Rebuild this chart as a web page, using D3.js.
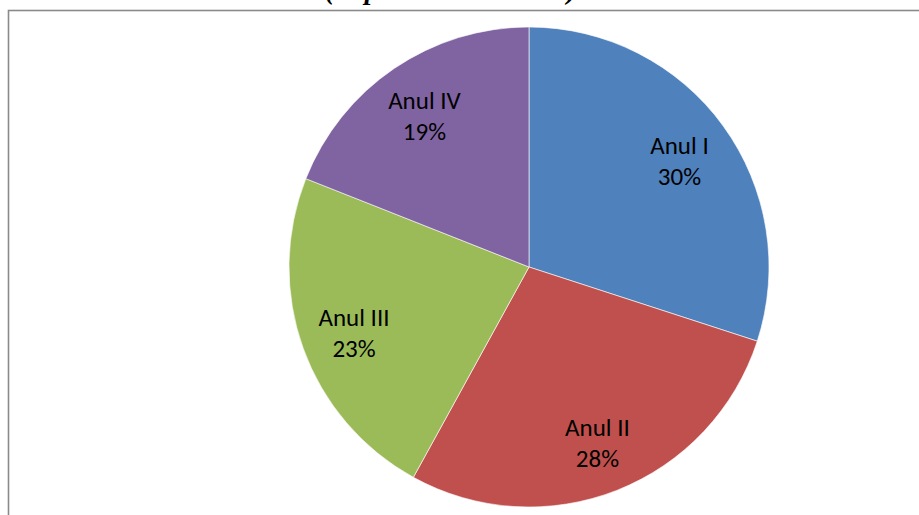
<!DOCTYPE html>
<html>
<head>
<meta charset="utf-8">
<script src="https://cdn.jsdelivr.net/npm/d3@7"></script>
<style>
  body { margin: 0; background: #fff; }
  svg { display: block; }
</style>
</head>
<body>
<div id="chart"></div>
<script>
// data
const categories = ["Anul I", "Anul II", "Anul III", "Anul IV"];
const shares = [30, 28, 23, 19];
const colors = ["#4F81BD", "#C0504D", "#9BBB59", "#8064A2"];
const titleText = "(în procente din total)";

const width = 919, height = 515;
const cx = 529, cy = 267, radius = 240;

const svg = d3.select("#chart").append("svg")
    .attr("width", width)
    .attr("height", height);

// title, mostly cut off above the frame
svg.append("text")
    .attr("x", 325)
    .attr("y", -1)
    .attr("font-family", "Liberation Serif, Times New Roman, serif")
    .attr("font-weight", "bold")
    .attr("font-style", "italic")
    .attr("font-size", 28)
    .text(titleText);

// chart frame
svg.append("rect")
    .attr("x", 8.5)
    .attr("y", 10.5)
    .attr("width", width)
    .attr("height", height)
    .attr("fill", "none")
    .attr("stroke", "#8a8a8a")
    .attr("stroke-width", 1.6);

const pieData = d3.pie().sort(null).value(d => d.value)(
    categories.map((c, i) => ({name: c, value: shares[i], color: colors[i]}))
);

const arc = d3.arc().innerRadius(0).outerRadius(radius);
const labelArc = d3.arc().innerRadius(186).outerRadius(186);

const g = svg.append("g")
    .attr("transform", "translate(" + cx + "," + cy + ")");

g.selectAll("path")
    .data(pieData)
    .enter().append("path")
    .attr("d", arc)
    .attr("fill", d => d.data.color)
    .attr("stroke", "#ffffff")
    .attr("stroke-width", 0.6);

const labels = g.selectAll("text.label")
    .data(pieData)
    .enter().append("text")
    .attr("class", "label")
    .attr("transform", d => "translate(" + labelArc.centroid(d) + ")")
    .attr("text-anchor", "middle")
    .attr("font-family", "Carlito, Open Sans, sans-serif")
    .attr("font-size", 25)
    .attr("fill", "#000");

labels.append("tspan")
    .attr("x", 0)
    .attr("y", -4)
    .text(d => d.data.name);

labels.append("tspan")
    .attr("x", 0)
    .attr("y", 27)
    .text(d => d.data.value + "%");
</script>
</body>
</html>
